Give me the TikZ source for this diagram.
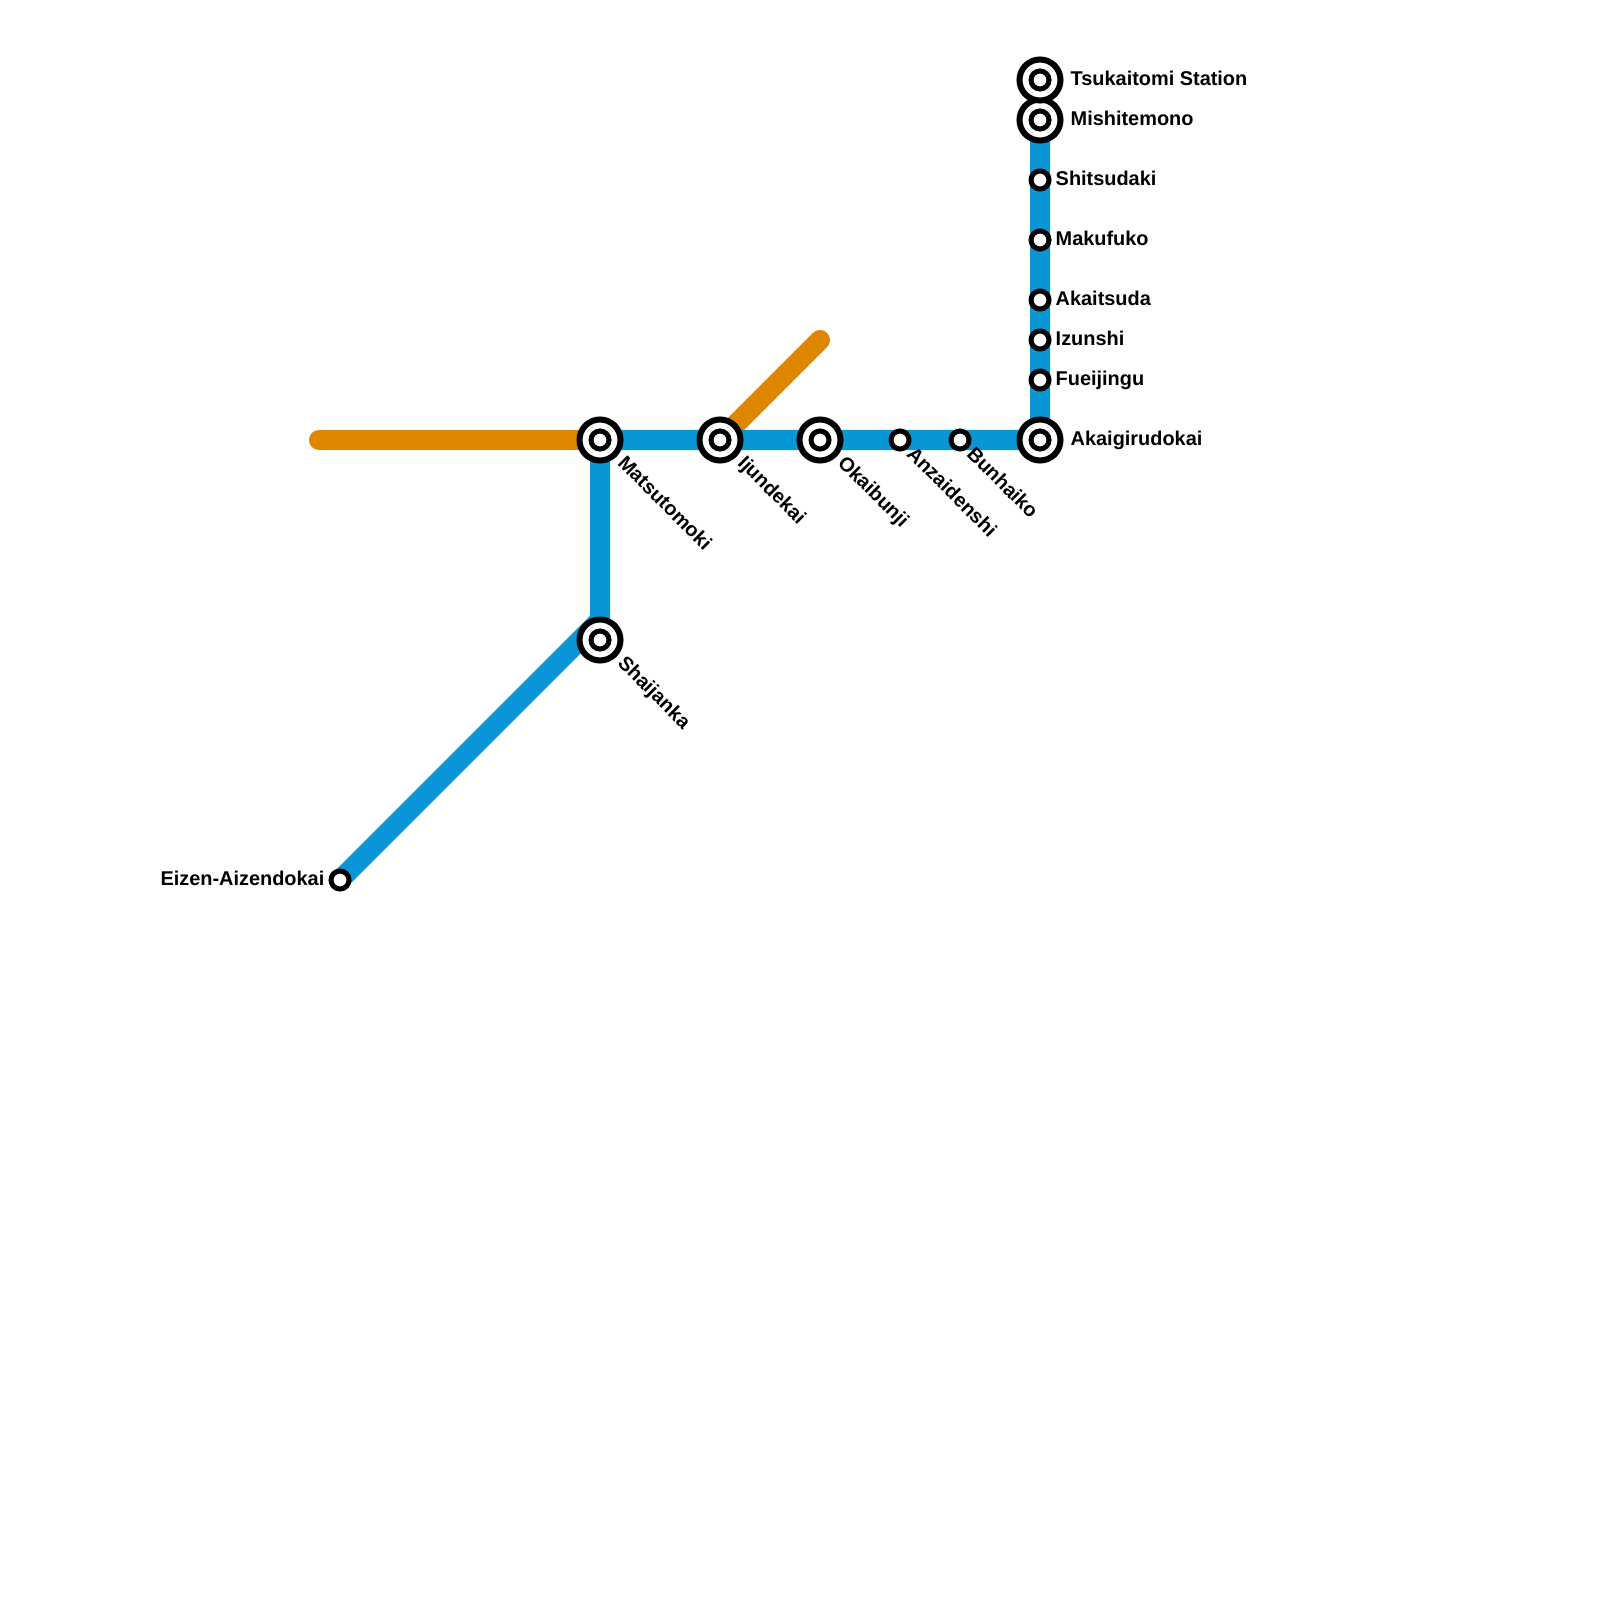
\documentclass[tikz,border=0pt]{standalone}
\usepackage{fontspec}
\setmainfont{Liberation Sans}
\usetikzlibrary{positioning,backgrounds}
\definecolor{lineblue}{HTML}{0896D7}
\definecolor{lineorange}{HTML}{DF8600}
\tikzset{
  stopdot/.style={circle,draw=black,fill=white,line width=0.05cm,inner sep=0pt,minimum size=0.18cm},
  hubdot/.style={stopdot,line width=0.06cm,minimum size=0.41cm,path picture={\draw[line width=0.05cm] (path picture bounding box.center) circle (0.09cm);}},
  stoplabel/.style={inner sep=0pt,font=\bfseries\fontsize{5.66pt}{7pt}\selectfont,text height=4.1pt,text depth=1.2pt},
  track/.style={line width=0.2cm,line cap=round}
}
\begin{document}
\begin{tikzpicture}[x=0.01cm,y=-0.01cm]
\useasboundingbox (0,0) rectangle (1600,1600);
% stations
\foreach \id/\x/\y in {matsutomoki/600/440,ijundekai/720/440,okaibunji/820/440,akaigirudokai/1040/440,shaijanka/600/640,mishitemono/1040/120,tsukaitomi/1040/80}
  \node[hubdot] (\id) at (\x,\y) {};
\foreach \id/\x/\y in {anzaidenshi/900/440,bunhaiko/960/440,fueijingu/1040/380,izunshi/1040/340,akaitsuda/1040/300,makufuko/1040/240,shitsudaki/1040/180,eizen/340/880}
  \node[stopdot] (\id) at (\x,\y) {};
% labels
\foreach \id/\txt in {tsukaitomi/Tsukaitomi Station,mishitemono/Mishitemono,akaigirudokai/Akaigirudokai}
  \node[stoplabel,right=0.3cm of \id.center,anchor=west] (\id-label) {\txt};
\foreach \id/\txt in {shitsudaki/Shitsudaki,makufuko/Makufuko,akaitsuda/Akaitsuda,izunshi/Izunshi,fueijingu/Fueijingu}
  \node[stoplabel,right=0.15cm of \id.center,anchor=west] (\id-label) {\txt};
\node[stoplabel,left=0.15cm of eizen.center,anchor=east] (eizen-label) {Eizen-Aizendokai};
\foreach \id/\txt in {matsutomoki/Matsutomoki,ijundekai/Ijundekai,okaibunji/Okaibunji,shaijanka/Shaijanka}
  \node[stoplabel,rotate=-45,below right=0.2cm and 0.2cm of \id.center,anchor=west] (\id-label) {\txt};
\foreach \id/\txt in {anzaidenshi/Anzaidenshi,bunhaiko/Bunhaiko}
  \node[stoplabel,rotate=-45,below right=0.11cm and 0.09cm of \id.center,anchor=west] (\id-label) {\txt};
% lines
\begin{scope}[on background layer]
\coordinate (orangewest) at (319,440);
\coordinate (orangeeast) at (820,340);
\coordinate (shaijankabend) at (600,620);
\draw[track,lineorange] (orangewest)--(matsutomoki.center);
\draw[track,lineorange] (ijundekai.center)--(orangeeast);
\draw[track,lineblue] (eizen.center)--(shaijankabend)--(matsutomoki.center)--(ijundekai.center)--(okaibunji.center)--(anzaidenshi.center)--(bunhaiko.center)--(akaigirudokai.center)--(fueijingu.center)--(izunshi.center)--(akaitsuda.center)--(makufuko.center)--(shitsudaki.center)--(mishitemono.center);
\end{scope}
\end{tikzpicture}
\end{document}
